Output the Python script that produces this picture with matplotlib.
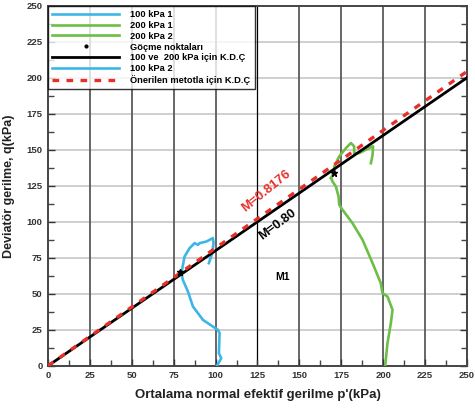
import matplotlib
matplotlib.use("Agg")
import matplotlib.pyplot as plt
import numpy as np
from matplotlib.ticker import MultipleLocator

plt.rcParams["font.family"] = ["Liberation Sans", "DejaVu Sans"]

# ---- data ----
p_100_1 = [100.8, 103.4, 102.0, 102.4, 101.4, 98.4, 92.5, 86.5, 83.5, 80.5, 79.6]
q_100_1 = [0.0, 5.3, 8.8, 22.7, 25.0, 27.3, 31.9, 41.2, 51.6, 59.7, 64.4]
p_100_2 = [79.6, 81.5, 84.5, 87.5, 89.5, 90.5, 94.5, 98.4, 98.8, 98.0, 96.0]
q_100_2 = [64.4, 75.9, 81.7, 85.2, 84.0, 85.2, 86.3, 88.7, 85.2, 78.2, 71.3]

p_200_1 = [201.2, 202.6, 204.6, 205.6, 202.6, 199.6, 198.6, 193.7, 187.7, 181.7,
           175.8, 173.8, 173.4, 171.8, 169.8, 168.9]
q_200_1 = [0.0, 15.8, 29.6, 38.9, 48.1, 50.5, 57.4, 71.3, 87.5, 99.1,
           108.3, 111.8, 117.6, 124.5, 128.0, 130.4]
p_200_2 = [168.9, 170.8, 170.8, 173.8, 177.8, 180.8, 182.7, 182.7, 185.7, 191.7,
           194.0, 193.7, 192.7]
q_200_2 = [130.4, 135.0, 138.4, 145.4, 151.2, 154.7, 152.4, 147.7, 147.7, 151.2,
           152.4, 146.5, 140.7]

fail_p = [79.0, 170.5]
fail_q = [65.0, 134.0]

M_csl = 0.80
M_prop = 0.8176
p_line = [0, 250]

BLUE = "#3db6e6"
GREEN = "#6cbf45"
RED = "#e8302a"

fig = plt.figure(figsize=(4.75, 4.12), dpi=100)
ax = fig.add_axes([0.101, 0.112, 0.882, 0.874])

ax.set_xlim(0, 250)
ax.set_ylim(0, 250)

# grid
for xv in np.arange(25, 250, 25):
    if xv == 125:
        ax.axvline(xv, color="black", lw=0.9, zorder=1)
    else:
        ax.axvline(xv, color="#666666", lw=1.4, zorder=1)
for yv in np.arange(25, 250, 25):
    ax.axhline(yv, color="#cfcfcf", lw=1.4, zorder=0.9)

l1, = ax.plot(p_100_1, q_100_1, color=BLUE, lw=1.9, label="100 kPa 1", zorder=3)
l2, = ax.plot(p_200_1, q_200_1, color=GREEN, lw=1.9, label="200 kPa 1", zorder=3)
l3, = ax.plot(p_200_2, q_200_2, color=GREEN, lw=1.9, label="200 kPa 2", zorder=3)
l4, = ax.plot(fail_p, fail_q, ls="none", marker="*", ms=5, color="black",
              label="Göçme noktaları", zorder=6)
l5, = ax.plot(p_line, [M_csl * v for v in p_line], color="black", lw=2.0,
              label="100 ve  200 kPa için K.D.Ç", zorder=4)
l6, = ax.plot(p_100_2, q_100_2, color=BLUE, lw=1.9, label="100 kPa 2", zorder=3)
l7, = ax.plot(p_line, [M_prop * v for v in p_line], color=RED, lw=2.4,
              ls=(0, (2.0, 2.2)), label="Önerilen metotla için K.D.Ç", zorder=5)

ax.text(130, 121.5, "M=0.8176", color=RED, fontsize=9.5, fontweight="bold",
        rotation=39, ha="center", va="center", zorder=7)
ax.text(137, 98, "M=0.80", color="black", fontsize=9.3, fontweight="bold",
        rotation=37, ha="center", va="center", zorder=7)
ax.text(140, 62, "M1", color="black", fontsize=7.5, fontweight="bold",
        ha="center", va="center", zorder=7)

leg = ax.legend(handles=[l1, l2, l3, l4, l5, l6, l7], loc="upper left",
                bbox_to_anchor=(0.0, 1.0), frameon=True,
                fancybox=False, borderaxespad=0.0, handlelength=7.2,
                labelspacing=0.2, borderpad=0.45, handletextpad=1.2,
                prop={"weight": "bold", "size": 6.7})
leg.get_frame().set_edgecolor("black")
leg.get_frame().set_linewidth(1.0)
leg.set_zorder(10)
l4h = leg.legend_handles[3]
l4h.set_marker("o")
l4h.set_markersize(2)

ax.xaxis.set_major_locator(MultipleLocator(25))
ax.yaxis.set_major_locator(MultipleLocator(25))
ax.xaxis.set_minor_locator(MultipleLocator(12.5))
ax.yaxis.set_minor_locator(MultipleLocator(12.5))
ax.tick_params(which="both", direction="in", top=False, right=True,
               color="#444444", width=1.0)
ax.tick_params(which="major", length=5)
ax.tick_params(which="minor", length=4)
ax.tick_params(axis="both", labelsize=6.8, colors="#333333", pad=4)
for lab in ax.get_xticklabels() + ax.get_yticklabels():
    lab.set_fontweight("bold")

for s in ax.spines.values():
    s.set_color("#444444")
    s.set_linewidth(1.4)

ax.set_xlabel("Ortalama normal efektif gerilme p'(kPa)", fontsize=9.5,
              fontweight="bold", color="#222222", labelpad=6)
ax.set_ylabel("Deviatör gerilme, q(kPa)", fontsize=9, fontweight="bold",
              color="#222222", labelpad=8)

fig.savefig("out.png", dpi=100)
